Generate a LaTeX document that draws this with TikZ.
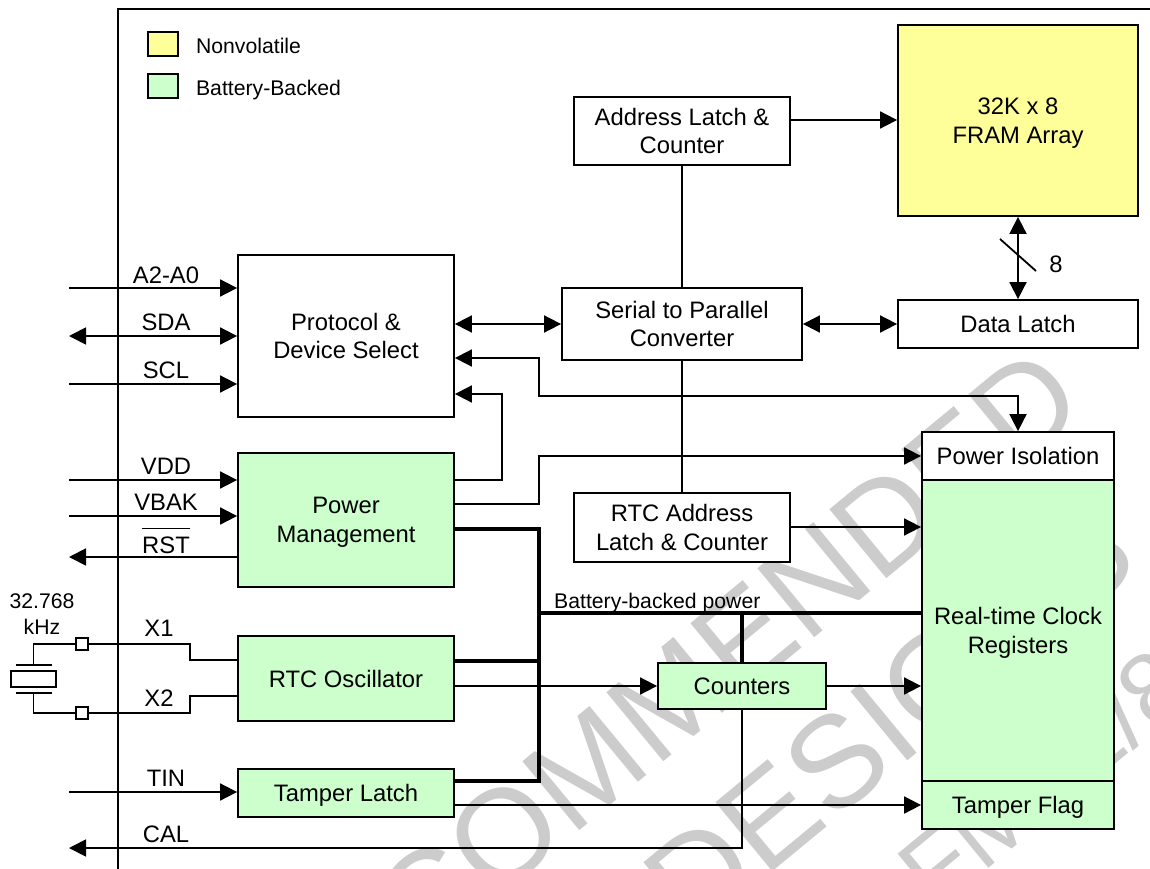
\documentclass[tikz,border=0pt]{standalone}
\usepackage{fontspec}
\setmainfont{Liberation Sans}
\usetikzlibrary{arrows.meta, positioning, calc}
\definecolor{battfill}{RGB}{204,255,204}
\definecolor{nvfill}{RGB}{255,255,153}
\definecolor{wmark}{RGB}{204,204,204}

\begin{document}
\begin{tikzpicture}[
  x=1pt, y=-1pt,
  every node/.style = {font=\fontsize{23.8}{28.5}\selectfont, inner sep=0pt, align=center, text depth=0pt},
  box/.style args = {#1/#2}{draw, line width=1.8pt, fill=white, minimum width=#1pt, minimum height=#2pt},
  batt/.style = {fill=battfill},
  small/.style = {font=\fontsize{21.2}{26}\selectfont},
  link/.style = {line width=1.8pt},
  arrow/.style = {link, -{Triangle[length=17pt,width=17pt]}},
  twoway/.style = {link, {Triangle[length=17pt,width=17pt]}-{Triangle[length=17pt,width=17pt]}},
  rail/.style = {line width=4pt},
  wm/.style = {text=wmark, font=\fontsize{#1}{#1}\selectfont, rotate=39.5}
]
  \useasboundingbox (0,0) rectangle (1150,869);

  % Watermark
  \node[wm=130] (wmone) at (727,651) {COMMENDED};
  \node[wm=130] (wmtwo) at (889,717) {DESIGNS};
  \node[wm=100, anchor=west] (wmthree) at (912,885) {FM31/8};

  % Device outline
  \coordinate (frametop) at (118,9);
  \draw[link] (118,869) -- (frametop) -- (1150,9);

  % Legend
  \node[box=30/24, fill=nvfill] (keynv) at (163,44) {};
  \node[box=30/24, batt] (keybatt) at (163,86) {};
  \node[small, right=17pt of keynv, yshift=-1.5pt] (keynvtxt) {Nonvolatile};
  \node[small, right=17pt of keybatt, yshift=-1.5pt] (keybatttxt) {Battery-Backed};

  % Left column
  \node[box=216/162] (protocol) at (346,336) {Protocol \&\\Device Select};
  \node[box=216/134, batt] (power) at (346,520) {Power\\Management};
  \node[box=216/85, batt] (osc) at (346,678.5) {RTC Oscillator};
  \node[box=216/48, batt] (tamper) at (346,793) {Tamper Latch};

  % Middle column
  \node[box=216/68] (addr) at (682,131) {Address Latch \&\\Counter};
  \node[box=240/72] (serial) at (682,324) {Serial to Parallel\\Converter};
  \node[box=216/69] (rtcaddr) at (682,527.5) {RTC Address\\Latch \& Counter};
  \node[box=168/46, batt] (counters) at (742,686) {Counters};

  % Right column
  \node[box=240/191, fill=nvfill] (fram) at (1018,120.5) {32K x 8\\FRAM Array};
  \node[box=240/48] (data) at (1018,324) {Data Latch};
  \node[box=192/48] (isol) at (1018,456) {Power Isolation};
  \node[box=192/301, batt] (regs) at (1018,630.5) {Real-time Clock\\Registers};
  \node[box=192/48, batt] (flag) at (1018,805) {Tamper Flag};

  % Pins on the left
  \coordinate (pina) at (69,288);
  \coordinate (pinsda) at (69,336);
  \coordinate (pinscl) at (69,384);
  \coordinate (pinvdd) at (69,480);
  \coordinate (pinvbak) at (69,516);
  \coordinate (pinrst) at (69,557);
  \coordinate (pintin) at (69,792);
  \coordinate (pincal) at (69,848);

  \draw[arrow] (pina) -- (protocol.west |- pina);
  \draw[twoway] (pinsda) -- (protocol.west |- pinsda);
  \draw[arrow] (pinscl) -- (protocol.west |- pinscl);
  \draw[arrow] (pinvdd) -- (power.west |- pinvdd);
  \draw[arrow] (pinvbak) -- (power.west |- pinvbak);
  \draw[arrow] (power.west |- pinrst) -- (pinrst);
  \draw[arrow] (pintin) -- (tamper.west |- pintin);
  \draw[arrow] (counters.south) |- (pincal);

  \node (lbla) at (166,275) {A2-A0};
  \node (lblsda) at (166,322) {SDA};
  \node (lblscl) at (166,370) {SCL};
  \node (lblvdd) at (166,466) {VDD};
  \node (lblvbak) at (166,502) {VBAK};
  \node[anchor=base] (lblrst) at (166,553) {$\overline{\mbox{\rule{0pt}{23pt}RST}}$};
  \node (lblxone) at (159,628) {X1};
  \node (lblxtwo) at (159,698) {X2};
  \node (lbltin) at (166,778) {TIN};
  \node (lblcal) at (166,834) {CAL};

  % Crystal
  \node[small] (lblfreq) at (42,614) {32.768\\kHz};
  \node[draw, line width=1.8pt, fill=white, minimum width=45pt, minimum height=16pt] (xtal) at (33.5,679) {};
  \coordinate (platetop) at (33.5,665);
  \coordinate (platebot) at (33.5,693);
  \draw[link] ($(platetop)+(-18,0)$) -- ($(platetop)+(18,0)$);
  \draw[link] ($(platebot)+(-18,0)$) -- ($(platebot)+(18,0)$);
  \coordinate (bendone) at (190,644);
  \coordinate (bendtwo) at (190,713);
  \draw[link] (platetop) |- (bendone) |- (osc.west |- 0,660);
  \draw[link] (platebot) |- (bendtwo) |- (osc.west |- 0,696);
  \node[draw, line width=1.8pt, fill=white, minimum size=12pt] (padone) at (82,644) {};
  \node[draw, line width=1.8pt, fill=white, minimum size=12pt] (padtwo) at (82,713) {};

  % Bus between the blocks
  \draw[twoway] (protocol.east |- 0,324) -- (serial.west);
  \draw[twoway] (serial.east) -- (data.west);
  \draw[twoway] (fram.south) -- (data.north);
  \draw[arrow] (addr.east |- 0,120) -- (fram.west |- 0,120);
  \draw[link] (addr.south) -- (serial.north);
  \draw[link] (serial.south) -- (rtcaddr.north);
  \coordinate (slashtop) at (1000,239);
  \coordinate (slashbot) at (1036,271);
  \draw[link] (slashtop) -- (slashbot);
  \node (lblwidth) at (1056,264) {8};

  % Power and control
  \coordinate (sensex) at (539,396);
  \draw[twoway] (isol.north) |- (sensex) |- (protocol.east |- 0,358);
  \coordinate (pfailx) at (502,480);
  \draw[arrow] (power.east |- pfailx) -- (pfailx) |- (protocol.east |- 0,394);
  \coordinate (vswx) at (539,504);
  \draw[arrow] (power.east |- vswx) -- (vswx) |- (isol.west);
  \draw[arrow] (rtcaddr.east |- 0,527) -- (regs.west |- 0,527);

  % Battery-backed power
  \coordinate (railtop) at (539,529);
  \coordinate (railbot) at (539,781);
  \draw[rail] (power.east |- railtop) -- (railtop) -- (railbot) -- (tamper.east |- railbot);
  \draw[rail] (osc.east |- 0,661) -- (539,661);
  \coordinate (railmid) at (539,613);
  \draw[rail] (railmid) -- (regs.west |- railmid);
  \draw[rail] (counters.north) -- (counters.north |- railmid);
  \node[small, anchor=base west] (lblbatt) at (554,608) {Battery-backed power};

  \draw[arrow] (osc.east |- counters.west) -- (counters.west);
  \draw[arrow] (counters.east) -- (regs.west |- counters.east);
  \draw[arrow] (tamper.east |- flag.west) -- (flag.west);

\end{tikzpicture}
\end{document}
